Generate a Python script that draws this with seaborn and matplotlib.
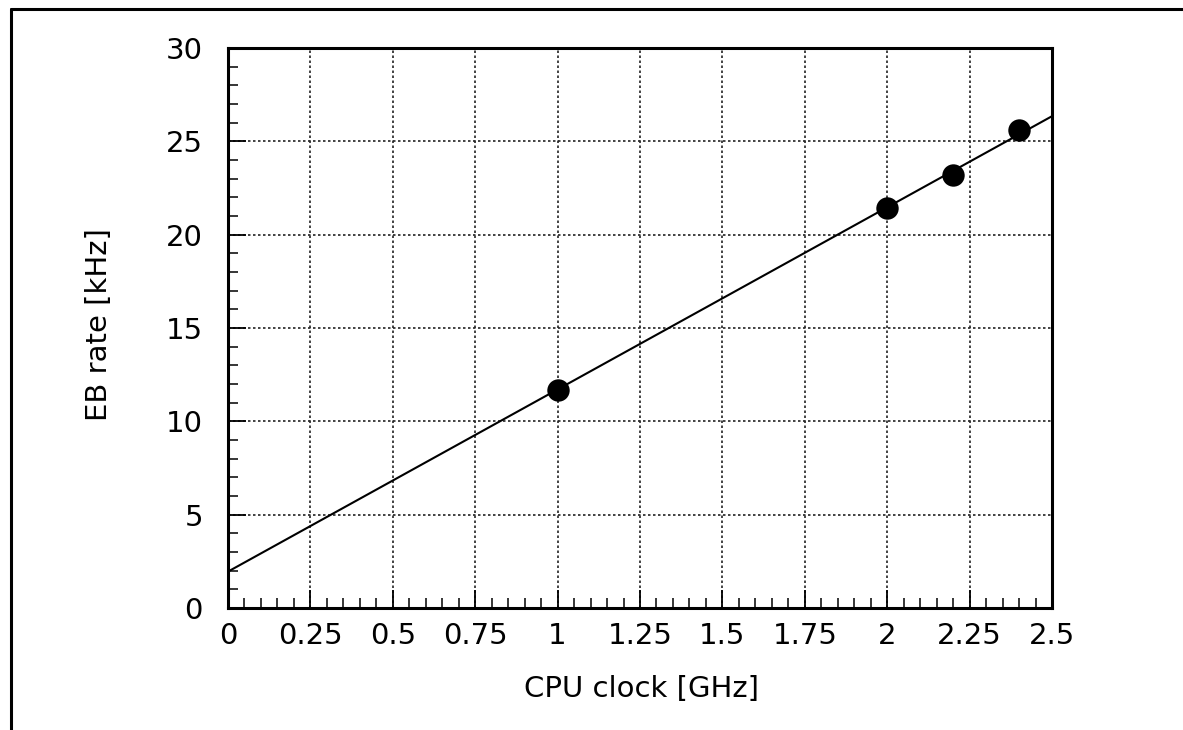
import matplotlib.pyplot as plt
import seaborn as sns
from matplotlib.lines import Line2D
from matplotlib.ticker import MultipleLocator

# measured points (CPU clock vs event-building rate)
cpu_clock_ghz = [1.0, 2.0, 2.2, 2.4]
eb_rate_khz = [11.7, 21.45, 23.2, 25.6]

# straight-line fit as drawn, read at both ends of the x range
fit_x = [0.0, 2.5]
fit_y = [1.95, 26.35]

x_ticks = [0, 0.25, 0.5, 0.75, 1, 1.25, 1.5, 1.75, 2, 2.25, 2.5]
x_tick_labels = ["0", "0.25", "0.5", "0.75", "1", "1.25", "1.5", "1.75", "2", "2.25", "2.5"]
y_ticks = [0, 5, 10, 15, 20, 25, 30]

sns.set_style("white")
plt.rcParams["font.family"] = ["DejaVu Sans"]
plt.rcParams["font.size"] = 21
plt.rcParams["text.color"] = "black"
plt.rcParams["axes.labelcolor"] = "black"

fig = plt.figure(figsize=(11.83, 7.30), dpi=100)
ax = fig.add_axes([0.1927, 0.1671, 0.6966, 0.7671])

sns.lineplot(x=fit_x, y=fit_y, color="black", linewidth=1.5, ax=ax)
sns.scatterplot(x=cpu_clock_ghz, y=eb_rate_khz, color="black", s=260,
                edgecolor="black", linewidth=0, ax=ax, zorder=5)

ax.set_xlim(0, 2.5)
ax.set_ylim(0, 30)
ax.set_xticks(x_ticks)
ax.set_xticklabels(x_tick_labels)
ax.set_yticks(y_ticks)
ax.xaxis.set_minor_locator(MultipleLocator(0.05))
ax.yaxis.set_minor_locator(MultipleLocator(1))

ax.tick_params(axis="both", which="major", direction="in", length=13, width=1.3,
               labelsize=21, colors="black", bottom=True, left=True, top=False, right=False)
ax.tick_params(axis="both", which="minor", direction="in", length=7, width=1.3,
               bottom=True, left=True, top=False, right=False)
ax.tick_params(axis="x", which="major", pad=10)
ax.tick_params(axis="y", which="major", pad=18)

ax.grid(True, which="major", color="#222222", linestyle=(0, (1.5, 1.5)), linewidth=1.2)
ax.grid(False, which="minor")
ax.set_axisbelow(True)
for side in ["left", "bottom", "top", "right"]:
    ax.spines[side].set_visible(True)
    ax.spines[side].set_color("black")
    ax.spines[side].set_linewidth(2.2)

ax.set_xlabel("CPU clock [GHz]", fontsize=21, color="black")
ax.set_ylabel("EB rate [kHz]", fontsize=21, color="black")
ax.xaxis.set_label_coords(0.502, -0.12)
ax.yaxis.set_label_coords(-0.14, 0.507)

# outer frame (top and left edges only)
fig.add_artist(Line2D([0.0093, 1.0], [0.9877, 0.9877], transform=fig.transFigure,
                      color="black", linewidth=2.2))
fig.add_artist(Line2D([0.0093, 0.0093], [0.9877, 0.0], transform=fig.transFigure,
                      color="black", linewidth=2.2))

fig.savefig("out.png", dpi=100, facecolor="white")
